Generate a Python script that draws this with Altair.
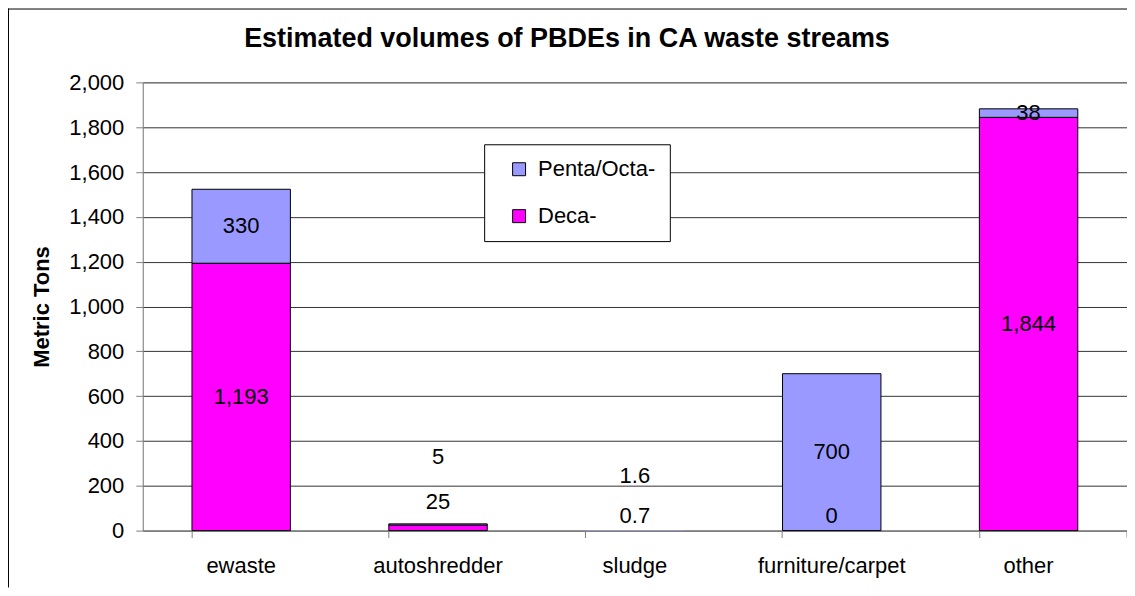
import altair as alt
import pandas as pd

# ---- data ----
categories = ["ewaste", "autoshredder", "sludge", "furniture/carpet", "other"]
series_names = ["Penta/Octa-", "Deca-"]
deca = [1193, 25, 0.7, 0, 1844]
penta = [330, 5, 1.6, 700, 38]
deca_text = ["1,193", "25", "0.7", "0", "1,844"]
penta_text = ["330", "5", "1.6", "700", "38"]
# labels moved by hand in the original chart (data units); None = middle of segment
deca_label_pos = [None, 126, 64, 64, None]
penta_label_pos = [None, 328, 242, None, None]
y_ticks = list(range(0, 2001, 200))
chart_title = "Estimated volumes of PBDEs in CA waste streams"

FONT = "Liberation Sans"

rows = []
for i, c in enumerate(categories):
    d0, d1 = 0, deca[i]
    p0, p1 = deca[i], deca[i] + penta[i]
    rows.append(dict(category=c, series="Deca-", order=0, y0=d0, y1=d1,
                     label=deca_text[i],
                     label_y=deca_label_pos[i] if deca_label_pos[i] is not None else (d0 + d1) / 2))
    rows.append(dict(category=c, series="Penta/Octa-", order=1, y0=p0, y1=p1,
                     label=penta_text[i],
                     label_y=penta_label_pos[i] if penta_label_pos[i] is not None else (p0 + p1) / 2))
df = pd.DataFrame(rows)

W, H = 986, 449

x_enc = alt.X(
    "category:N", sort=categories,
    scale=alt.Scale(paddingInner=0.5, paddingOuter=0.25),
    axis=alt.Axis(title=None, labelAngle=0, labelFontSize=22, labelFont=FONT,
                  labelColor="black", labelPadding=18, tickSize=7, bandPosition=0,
                  tickColor="#808080", domainColor="#808080", grid=False),
)
y_scale = alt.Scale(domain=[0, 2000], nice=False)

bars = alt.Chart(df).mark_bar(stroke="black", strokeWidth=1).encode(
    x=x_enc,
    y=alt.Y("y0:Q", scale=y_scale,
            axis=alt.Axis(values=y_ticks, format=",.0f", title="Metric Tons",
                          titleFontSize=22, titleFont=FONT, titleFontWeight="bold",
                          titleColor="black", titlePadding=15,
                          labelFontSize=22, labelFont=FONT, labelColor="black",
                          labelPadding=12, tickSize=7, tickColor="#808080",
                          domainColor="#808080", grid=True, gridColor="#333333")),
    y2="y1:Q",
    color=alt.Color("series:N",
                    scale=alt.Scale(domain=series_names, range=["#9999FF", "#FF00FF"]),
                    legend=alt.Legend(title=None, orient="none", legendX=342, legendY=62,
                                      direction="vertical", labelFontSize=22, labelFont=FONT,
                                      labelColor="black", symbolType="square", symbolSize=169,
                                      symbolStrokeColor="black", symbolStrokeWidth=1,
                                      strokeColor="black", fillColor="white", padding=14,
                                      symbolOffset=10, rowPadding=25, labelOffset=8)),
    # segments thinner than about one pixel get no outline (as in the original)
    strokeOpacity=alt.condition("datum.y1 - datum.y0 >= 4.5", alt.value(1), alt.value(0)),
    order=alt.Order("order:Q"),
)

labels = alt.Chart(df).mark_text(fontSize=22, font=FONT, color="black", baseline="middle").encode(
    x=alt.X("category:N", sort=categories),
    y=alt.Y("label_y:Q", scale=y_scale),
    text="label:N",
)

dummy = pd.DataFrame({"k": [0]})
title_mark = alt.Chart(dummy).mark_text(
    fontSize=27, font=FONT, fontWeight="bold", color="black",
    align="center", baseline="alphabetic").encode(
    x=alt.value(425), y=alt.value(-35), text=alt.value(chart_title))
last_tick = alt.Chart(dummy).mark_rule(color="#808080", strokeWidth=1).encode(
    x=alt.value(W), y=alt.value(H), y2=alt.value(H + 7))
top_border = alt.Chart(dummy).mark_rule(color="black", strokeWidth=1).encode(
    x=alt.value(-135), x2=alt.value(W), y=alt.value(-73.5))
left_border = alt.Chart(dummy).mark_rule(color="black", strokeWidth=1).encode(
    x=alt.value(-134.5), y=alt.value(-74), y2=alt.value(506))

chart = alt.layer(bars, labels, title_mark, last_tick, top_border, left_border).properties(
    width=W, height=H,
    autosize=alt.AutoSizeParams(type="none"),
    padding={"left": 135, "top": 74, "right": 0, "bottom": 57},
).configure_view(strokeWidth=0).configure(background="white")

chart.save("out.html", embed_options={"renderer": "svg", "actions": False})
